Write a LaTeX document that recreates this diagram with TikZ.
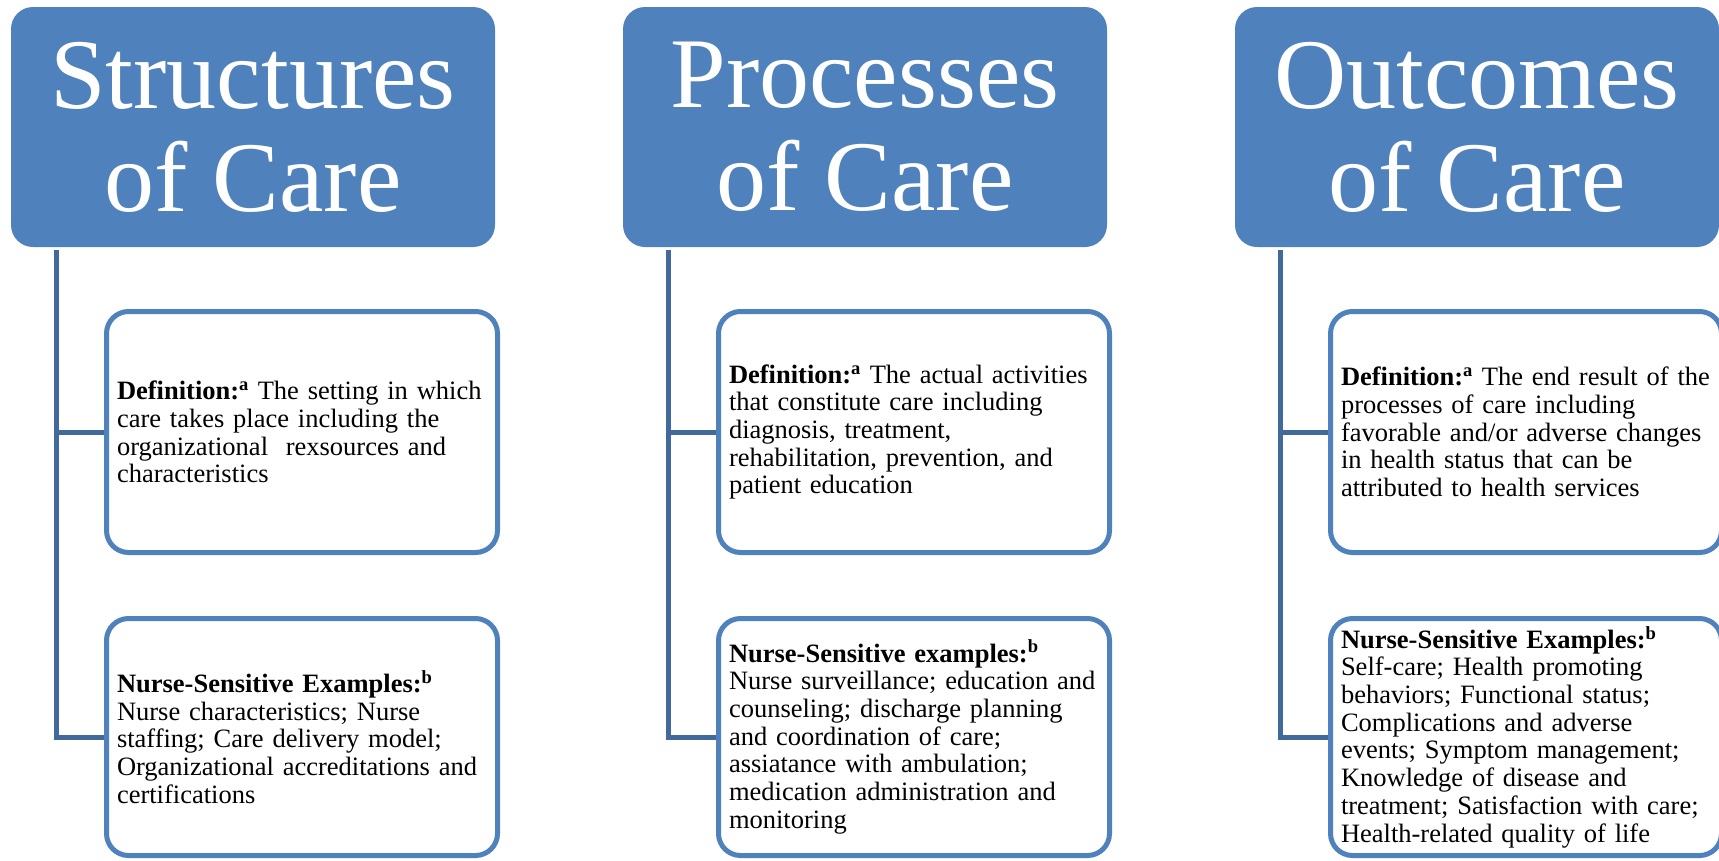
\documentclass[tikz,border=0pt]{standalone}
\usepackage{fontspec}
\setmainfont{Liberation Serif}
\definecolor{hdr}{HTML}{4F81BD}
\definecolor{bord}{HTML}{4F81BD}
\definecolor{conncol}{HTML}{41699C}
\begin{document}
\begin{tikzpicture}[x=1pt,y=-1pt,
 hdrbox/.style={fill=hdr, rounded corners=22pt, minimum width=484pt, minimum height=240pt, inner sep=0pt, text=white, align=center, font=\fontsize{100}{103}\selectfont},
 infobox/.style={draw=bord, line width=5pt, fill=white, rounded corners=22pt, minimum width=391pt, text width=370pt, inner xsep=10.5pt, align=left, font=\fontsize{26.5}{27.7}\selectfont},
 defbox/.style={infobox, minimum height=241pt},
 exbox/.style={infobox, minimum height=237pt},
 connline/.style={draw=conncol, line width=5pt}]
\useasboundingbox (0,0) rectangle (1719,860);

% headers
\node[hdrbox] (h1) at (253,127) {Structures\\of Care};
\node[hdrbox] (h2) at (865,127) {Processes\\of Care};
\node[hdrbox] (h3) at (1477,127) {Outcomes\\of Care};

% connector tops
\coordinate (t1) at ([xshift=46pt,yshift=-3pt]h1.south west);
\coordinate (t2) at ([xshift=46pt,yshift=-3pt]h2.south west);
\coordinate (t3) at ([xshift=46pt,yshift=-3pt]h3.south west);

% column 1
\node[defbox] (d1) at (302,432) {\textbf{Definition:\textsuperscript{a}} The setting in which\\care takes place including the\\organizational\ \ rexsources and\\characteristics};
\node[exbox] (e1) at (302,737) {\textbf{Nurse-Sensitive Examples:\textsuperscript{b}}\\Nurse characteristics; Nurse\\staffing; Care delivery model;\\Organizational accreditations and\\certifications};

% column 2
\node[defbox] (d2) at (914,432) {\textbf{Definition:\textsuperscript{a}} The actual activities\\that constitute care including\\diagnosis, treatment,\\rehabilitation, prevention, and\\patient education};
\node[exbox] (e2) at (914,737) {\textbf{Nurse-Sensitive examples:\textsuperscript{b}}\\Nurse surveillance; education and\\counseling; discharge planning\\and coordination of care;\\assiatance with ambulation;\\medication administration and\\monitoring};

% column 3
\node[defbox] (d3) at (1526,432) {\textbf{Definition:\textsuperscript{a}} The end result of the\\processes of care including\\favorable and/or adverse changes\\in health status that can be\\attributed to health services};
\node[exbox] (e3) at (1526,737) {\textbf{Nurse-Sensitive Examples:\textsuperscript{b}}\\Self-care; Health promoting\\behaviors; Functional status;\\Complications and adverse\\events; Symptom management;\\Knowledge of disease and\\treatment; Satisfaction with care;\\Health-related quality of life};

% connectors
\draw[connline] (t1) |- (d1.west);
\draw[connline] (t1) |- (e1.west);
\draw[connline] (t2) |- (d2.west);
\draw[connline] (t2) |- (e2.west);
\draw[connline] (t3) |- (d3.west);
\draw[connline] (t3) |- (e3.west);
\end{tikzpicture}
\end{document}
